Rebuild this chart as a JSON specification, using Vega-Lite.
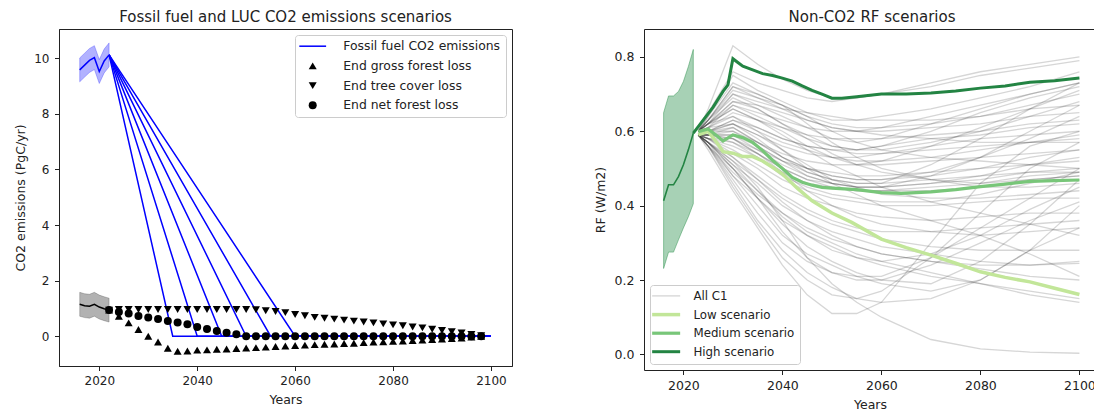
{
"$schema": "https://vega.github.io/schema/vega-lite/v6.json",
"padding": {"left": 13, "top": 9, "right": 0, "bottom": 0},
"bounds": "flush",
"spacing": 132,
"resolve": {"scale": {"color": "independent", "shape": "independent", "strokeWidth": "independent", "opacity": "independent"}, "legend": {"color": "independent", "shape": "independent", "strokeWidth": "independent", "opacity": "independent"}},
"config": {
 "font": "DejaVu Sans",
 "view": {"stroke": null},
 "axis": {"grid": false, "domainColor": "#222", "tickColor": "#222", "labelColor": "#222", "titleColor": "#222", "tickSize": 4.5, "labelFontSize": 12, "titleFontSize": 12.5, "titleFontWeight": "normal", "labelPadding": 5},
 "axisY": {"labelPadding": 5.5, "titlePadding": 6.5},
 "axisX": {"titlePadding": 6.5},
 "title": {"fontSize": 15, "fontWeight": "normal", "color": "#222", "offset": 4},
 "legend": {"labelFontSize": 12.4, "labelColor": "#222", "labelLimit": 300, "fillColor": "rgba(255,255,255,0.8)", "strokeColor": "#cccccc", "cornerRadius": 3, "padding": 5, "rowPadding": 6.7}
},
"datasets": {
 "ffh": [
  {"x":2016,"y":9.58,"lo":9.15,"hi":10.01},{"x":2017,"y":9.75,"lo":9.32,"hi":10.18},{"x":2018,"y":9.92,"lo":9.49,"hi":10.35},{"x":2019,"y":10.02,"lo":9.59,"hi":10.45},{"x":2020,"y":9.52,"lo":9.09,"hi":9.95},{"x":2021,"y":9.9,"lo":9.47,"hi":10.33},{"x":2022,"y":10.12,"lo":9.69,"hi":10.55}
 ],
 "ffs": [
  {"sc":2035,"x":2022,"y":10.12},{"sc":2035,"x":2035,"y":0},{"sc":2035,"x":2100,"y":0},
  {"sc":2040,"x":2022,"y":10.12},{"sc":2040,"x":2040,"y":0},{"sc":2040,"x":2100,"y":0},
  {"sc":2045,"x":2022,"y":10.12},{"sc":2045,"x":2045,"y":0},{"sc":2045,"x":2100,"y":0},
  {"sc":2050,"x":2022,"y":10.12},{"sc":2050,"x":2050,"y":0},{"sc":2050,"x":2100,"y":0},
  {"sc":2055,"x":2022,"y":10.12},{"sc":2055,"x":2055,"y":0},{"sc":2055,"x":2100,"y":0},
  {"sc":2060,"x":2022,"y":10.12},{"sc":2060,"x":2060,"y":0},{"sc":2060,"x":2100,"y":0}
 ],
 "luh": [
  {"x":2016,"y":1.15,"lo":0.72,"hi":1.58},{"x":2017,"y":1.1,"lo":0.67,"hi":1.53},{"x":2018,"y":1.08,"lo":0.65,"hi":1.51},{"x":2019,"y":1.15,"lo":0.72,"hi":1.58},{"x":2020,"y":1.05,"lo":0.62,"hi":1.48},{"x":2021,"y":0.99,"lo":0.56,"hi":1.42},{"x":2022,"y":0.94,"lo":0.51,"hi":1.37}
 ],
 "mk": [
  {"k":"End gross forest loss","x":2022,"y":0.94},{"k":"End gross forest loss","x":2024,"y":0.72},{"k":"End gross forest loss","x":2026,"y":0.48},{"k":"End gross forest loss","x":2028,"y":0.24},{"k":"End gross forest loss","x":2030,"y":0},{"k":"End gross forest loss","x":2032,"y":-0.21},{"k":"End gross forest loss","x":2034,"y":-0.43},{"k":"End gross forest loss","x":2036,"y":-0.54},{"k":"End gross forest loss","x":2038,"y":-0.53},{"k":"End gross forest loss","x":2040,"y":-0.5},{"k":"End gross forest loss","x":2042,"y":-0.49},{"k":"End gross forest loss","x":2044,"y":-0.47},{"k":"End gross forest loss","x":2046,"y":-0.46},{"k":"End gross forest loss","x":2048,"y":-0.44},{"k":"End gross forest loss","x":2050,"y":-0.42},{"k":"End gross forest loss","x":2052,"y":-0.41},{"k":"End gross forest loss","x":2054,"y":-0.39},{"k":"End gross forest loss","x":2056,"y":-0.37},{"k":"End gross forest loss","x":2058,"y":-0.35},{"k":"End gross forest loss","x":2060,"y":-0.33},{"k":"End gross forest loss","x":2062,"y":-0.32},{"k":"End gross forest loss","x":2064,"y":-0.3},{"k":"End gross forest loss","x":2066,"y":-0.29},{"k":"End gross forest loss","x":2068,"y":-0.28},{"k":"End gross forest loss","x":2070,"y":-0.26},{"k":"End gross forest loss","x":2072,"y":-0.25},{"k":"End gross forest loss","x":2074,"y":-0.23},{"k":"End gross forest loss","x":2076,"y":-0.21},{"k":"End gross forest loss","x":2078,"y":-0.2},{"k":"End gross forest loss","x":2080,"y":-0.18},{"k":"End gross forest loss","x":2082,"y":-0.17},{"k":"End gross forest loss","x":2084,"y":-0.15},{"k":"End gross forest loss","x":2086,"y":-0.14},{"k":"End gross forest loss","x":2088,"y":-0.12},{"k":"End gross forest loss","x":2090,"y":-0.1},{"k":"End gross forest loss","x":2092,"y":-0.08},{"k":"End gross forest loss","x":2094,"y":-0.06},{"k":"End gross forest loss","x":2096,"y":-0.03},{"k":"End gross forest loss","x":2098,"y":0},
  {"k":"End tree cover loss","x":2022,"y":0.94},{"k":"End tree cover loss","x":2024,"y":0.96},{"k":"End tree cover loss","x":2026,"y":0.96},{"k":"End tree cover loss","x":2028,"y":0.96},{"k":"End tree cover loss","x":2030,"y":0.96},{"k":"End tree cover loss","x":2032,"y":0.96},{"k":"End tree cover loss","x":2034,"y":0.96},{"k":"End tree cover loss","x":2036,"y":0.96},{"k":"End tree cover loss","x":2038,"y":0.96},{"k":"End tree cover loss","x":2040,"y":0.96},{"k":"End tree cover loss","x":2042,"y":0.96},{"k":"End tree cover loss","x":2044,"y":0.96},{"k":"End tree cover loss","x":2046,"y":0.96},{"k":"End tree cover loss","x":2048,"y":0.96},{"k":"End tree cover loss","x":2050,"y":0.96},{"k":"End tree cover loss","x":2052,"y":0.95},{"k":"End tree cover loss","x":2054,"y":0.92},{"k":"End tree cover loss","x":2056,"y":0.89},{"k":"End tree cover loss","x":2058,"y":0.85},{"k":"End tree cover loss","x":2060,"y":0.785},{"k":"End tree cover loss","x":2062,"y":0.735},{"k":"End tree cover loss","x":2064,"y":0.68},{"k":"End tree cover loss","x":2066,"y":0.645},{"k":"End tree cover loss","x":2068,"y":0.615},{"k":"End tree cover loss","x":2070,"y":0.58},{"k":"End tree cover loss","x":2072,"y":0.545},{"k":"End tree cover loss","x":2074,"y":0.51},{"k":"End tree cover loss","x":2076,"y":0.48},{"k":"End tree cover loss","x":2078,"y":0.445},{"k":"End tree cover loss","x":2080,"y":0.41},{"k":"End tree cover loss","x":2082,"y":0.375},{"k":"End tree cover loss","x":2084,"y":0.335},{"k":"End tree cover loss","x":2086,"y":0.3},{"k":"End tree cover loss","x":2088,"y":0.25},{"k":"End tree cover loss","x":2090,"y":0.205},{"k":"End tree cover loss","x":2092,"y":0.165},{"k":"End tree cover loss","x":2094,"y":0.115},{"k":"End tree cover loss","x":2096,"y":0.06},{"k":"End tree cover loss","x":2098,"y":0.015},
  {"k":"End net forest loss","x":2022,"y":0.94},{"k":"End net forest loss","x":2024,"y":0.87},{"k":"End net forest loss","x":2026,"y":0.82},{"k":"End net forest loss","x":2028,"y":0.73},{"k":"End net forest loss","x":2030,"y":0.67},{"k":"End net forest loss","x":2032,"y":0.62},{"k":"End net forest loss","x":2034,"y":0.55},{"k":"End net forest loss","x":2036,"y":0.49},{"k":"End net forest loss","x":2038,"y":0.43},{"k":"End net forest loss","x":2040,"y":0.33},{"k":"End net forest loss","x":2042,"y":0.26},{"k":"End net forest loss","x":2044,"y":0.19},{"k":"End net forest loss","x":2046,"y":0.13},{"k":"End net forest loss","x":2048,"y":0.07},{"k":"End net forest loss","x":2050,"y":0},{"k":"End net forest loss","x":2052,"y":0},{"k":"End net forest loss","x":2054,"y":0},{"k":"End net forest loss","x":2056,"y":0},{"k":"End net forest loss","x":2058,"y":0},{"k":"End net forest loss","x":2060,"y":0},{"k":"End net forest loss","x":2062,"y":0},{"k":"End net forest loss","x":2064,"y":0},{"k":"End net forest loss","x":2066,"y":0},{"k":"End net forest loss","x":2068,"y":0},{"k":"End net forest loss","x":2070,"y":0},{"k":"End net forest loss","x":2072,"y":0},{"k":"End net forest loss","x":2074,"y":0},{"k":"End net forest loss","x":2076,"y":0},{"k":"End net forest loss","x":2078,"y":0},{"k":"End net forest loss","x":2080,"y":0},{"k":"End net forest loss","x":2082,"y":0},{"k":"End net forest loss","x":2084,"y":0},{"k":"End net forest loss","x":2086,"y":0},{"k":"End net forest loss","x":2088,"y":0},{"k":"End net forest loss","x":2090,"y":0},{"k":"End net forest loss","x":2092,"y":0},{"k":"End net forest loss","x":2094,"y":0},{"k":"End net forest loss","x":2096,"y":0},{"k":"End net forest loss","x":2098,"y":0}
 ],
 "band": [
  {"x":2016,"lo":0.231,"hi":0.65},{"x":2017,"lo":0.275,"hi":0.695},{"x":2018,"lo":0.275,"hi":0.695},{"x":2019,"lo":0.308,"hi":0.707},{"x":2020,"lo":0.34,"hi":0.734},{"x":2021,"lo":0.37,"hi":0.774},{"x":2022,"lo":0.405,"hi":0.82}
 ],
 "hist": [
  {"x":2016,"y":0.413},{"x":2017,"y":0.456},{"x":2018,"y":0.456},{"x":2019,"y":0.478},{"x":2020,"y":0.51},{"x":2021,"y":0.55},{"x":2022,"y":0.595}
 ],
 "c1": [
  {"s":1,"x":2023,"y":0.6},{"s":1,"x":2025,"y":0.66},{"s":1,"x":2030,"y":0.83},{"s":1,"x":2035,"y":0.78},{"s":1,"x":2040,"y":0.74},{"s":1,"x":2045,"y":0.71},{"s":1,"x":2050,"y":0.69},{"s":1,"x":2055,"y":0.69},{"s":1,"x":2060,"y":0.7},{"s":1,"x":2070,"y":0.73},{"s":1,"x":2080,"y":0.76},{"s":1,"x":2090,"y":0.78},{"s":1,"x":2100,"y":0.8},
  {"s":2,"x":2023,"y":0.6},{"s":2,"x":2025,"y":0.65},{"s":2,"x":2030,"y":0.76},{"s":2,"x":2035,"y":0.73},{"s":2,"x":2040,"y":0.71},{"s":2,"x":2045,"y":0.69},{"s":2,"x":2050,"y":0.68},{"s":2,"x":2055,"y":0.69},{"s":2,"x":2060,"y":0.7},{"s":2,"x":2070,"y":0.72},{"s":2,"x":2080,"y":0.75},{"s":2,"x":2090,"y":0.77},{"s":2,"x":2100,"y":0.79},
  {"s":3,"x":2023,"y":0.6},{"s":3,"x":2025,"y":0.64},{"s":3,"x":2030,"y":0.75},{"s":3,"x":2035,"y":0.71},{"s":3,"x":2040,"y":0.68},{"s":3,"x":2045,"y":0.65},{"s":3,"x":2050,"y":0.63},{"s":3,"x":2055,"y":0.63},{"s":3,"x":2060,"y":0.64},{"s":3,"x":2070,"y":0.66},{"s":3,"x":2080,"y":0.69},{"s":3,"x":2090,"y":0.72},{"s":3,"x":2100,"y":0.76},
  {"s":4,"x":2023,"y":0.6},{"s":4,"x":2025,"y":0.63},{"s":4,"x":2030,"y":0.72},{"s":4,"x":2035,"y":0.69},{"s":4,"x":2040,"y":0.66},{"s":4,"x":2045,"y":0.63},{"s":4,"x":2050,"y":0.61},{"s":4,"x":2055,"y":0.6},{"s":4,"x":2060,"y":0.61},{"s":4,"x":2070,"y":0.64},{"s":4,"x":2080,"y":0.67},{"s":4,"x":2090,"y":0.7},{"s":4,"x":2100,"y":0.73},
  {"s":5,"x":2023,"y":0.6},{"s":5,"x":2025,"y":0.63},{"s":5,"x":2030,"y":0.7},{"s":5,"x":2035,"y":0.67},{"s":5,"x":2040,"y":0.64},{"s":5,"x":2045,"y":0.61},{"s":5,"x":2050,"y":0.58},{"s":5,"x":2055,"y":0.57},{"s":5,"x":2060,"y":0.58},{"s":5,"x":2070,"y":0.62},{"s":5,"x":2080,"y":0.66},{"s":5,"x":2090,"y":0.7},{"s":5,"x":2100,"y":0.73},
  {"s":6,"x":2023,"y":0.6},{"s":6,"x":2025,"y":0.62},{"s":6,"x":2030,"y":0.68},{"s":6,"x":2035,"y":0.66},{"s":6,"x":2040,"y":0.62},{"s":6,"x":2045,"y":0.59},{"s":6,"x":2050,"y":0.56},{"s":6,"x":2055,"y":0.55},{"s":6,"x":2060,"y":0.56},{"s":6,"x":2070,"y":0.6},{"s":6,"x":2080,"y":0.65},{"s":6,"x":2090,"y":0.69},{"s":6,"x":2100,"y":0.72},
  {"s":7,"x":2023,"y":0.6},{"s":7,"x":2025,"y":0.62},{"s":7,"x":2030,"y":0.66},{"s":7,"x":2035,"y":0.63},{"s":7,"x":2040,"y":0.6},{"s":7,"x":2045,"y":0.56},{"s":7,"x":2050,"y":0.53},{"s":7,"x":2055,"y":0.51},{"s":7,"x":2060,"y":0.52},{"s":7,"x":2070,"y":0.56},{"s":7,"x":2080,"y":0.61},{"s":7,"x":2090,"y":0.66},{"s":7,"x":2100,"y":0.71},
  {"s":8,"x":2023,"y":0.6},{"s":8,"x":2025,"y":0.62},{"s":8,"x":2030,"y":0.7},{"s":8,"x":2035,"y":0.68},{"s":8,"x":2040,"y":0.66},{"s":8,"x":2045,"y":0.65},{"s":8,"x":2050,"y":0.64},{"s":8,"x":2055,"y":0.63},{"s":8,"x":2060,"y":0.63},{"s":8,"x":2070,"y":0.63},{"s":8,"x":2080,"y":0.64},{"s":8,"x":2090,"y":0.66},{"s":8,"x":2100,"y":0.67},
  {"s":9,"x":2023,"y":0.6},{"s":9,"x":2025,"y":0.61},{"s":9,"x":2030,"y":0.67},{"s":9,"x":2035,"y":0.65},{"s":9,"x":2040,"y":0.63},{"s":9,"x":2045,"y":0.61},{"s":9,"x":2050,"y":0.6},{"s":9,"x":2055,"y":0.6},{"s":9,"x":2060,"y":0.6},{"s":9,"x":2070,"y":0.61},{"s":9,"x":2080,"y":0.62},{"s":9,"x":2090,"y":0.64},{"s":9,"x":2100,"y":0.65},
  {"s":10,"x":2023,"y":0.6},{"s":10,"x":2025,"y":0.61},{"s":10,"x":2030,"y":0.65},{"s":10,"x":2035,"y":0.63},{"s":10,"x":2040,"y":0.61},{"s":10,"x":2045,"y":0.59},{"s":10,"x":2050,"y":0.58},{"s":10,"x":2055,"y":0.58},{"s":10,"x":2060,"y":0.58},{"s":10,"x":2070,"y":0.59},{"s":10,"x":2080,"y":0.6},{"s":10,"x":2090,"y":0.62},{"s":10,"x":2100,"y":0.63},
  {"s":11,"x":2023,"y":0.59},{"s":11,"x":2025,"y":0.61},{"s":11,"x":2030,"y":0.64},{"s":11,"x":2035,"y":0.61},{"s":11,"x":2040,"y":0.58},{"s":11,"x":2045,"y":0.56},{"s":11,"x":2050,"y":0.55},{"s":11,"x":2055,"y":0.55},{"s":11,"x":2060,"y":0.56},{"s":11,"x":2070,"y":0.58},{"s":11,"x":2080,"y":0.59},{"s":11,"x":2090,"y":0.61},{"s":11,"x":2100,"y":0.62},
  {"s":12,"x":2023,"y":0.59},{"s":12,"x":2025,"y":0.6},{"s":12,"x":2030,"y":0.62},{"s":12,"x":2035,"y":0.59},{"s":12,"x":2040,"y":0.56},{"s":12,"x":2045,"y":0.54},{"s":12,"x":2050,"y":0.53},{"s":12,"x":2055,"y":0.53},{"s":12,"x":2060,"y":0.54},{"s":12,"x":2070,"y":0.56},{"s":12,"x":2080,"y":0.58},{"s":12,"x":2090,"y":0.59},{"s":12,"x":2100,"y":0.6},
  {"s":13,"x":2023,"y":0.59},{"s":13,"x":2025,"y":0.6},{"s":13,"x":2030,"y":0.63},{"s":13,"x":2035,"y":0.6},{"s":13,"x":2040,"y":0.57},{"s":13,"x":2045,"y":0.55},{"s":13,"x":2050,"y":0.53},{"s":13,"x":2055,"y":0.52},{"s":13,"x":2060,"y":0.52},{"s":13,"x":2070,"y":0.53},{"s":13,"x":2080,"y":0.55},{"s":13,"x":2090,"y":0.57},{"s":13,"x":2100,"y":0.59},
  {"s":14,"x":2023,"y":0.59},{"s":14,"x":2025,"y":0.6},{"s":14,"x":2030,"y":0.62},{"s":14,"x":2035,"y":0.58},{"s":14,"x":2040,"y":0.53},{"s":14,"x":2045,"y":0.49},{"s":14,"x":2050,"y":0.47},{"s":14,"x":2055,"y":0.46},{"s":14,"x":2060,"y":0.46},{"s":14,"x":2070,"y":0.51},{"s":14,"x":2080,"y":0.58},{"s":14,"x":2090,"y":0.66},{"s":14,"x":2100,"y":0.73},
  {"s":15,"x":2023,"y":0.59},{"s":15,"x":2025,"y":0.6},{"s":15,"x":2030,"y":0.6},{"s":15,"x":2035,"y":0.56},{"s":15,"x":2040,"y":0.52},{"s":15,"x":2045,"y":0.48},{"s":15,"x":2050,"y":0.46},{"s":15,"x":2055,"y":0.45},{"s":15,"x":2060,"y":0.45},{"s":15,"x":2070,"y":0.48},{"s":15,"x":2080,"y":0.53},{"s":15,"x":2090,"y":0.6},{"s":15,"x":2100,"y":0.67},
  {"s":16,"x":2023,"y":0.59},{"s":16,"x":2025,"y":0.59},{"s":16,"x":2030,"y":0.61},{"s":16,"x":2035,"y":0.57},{"s":16,"x":2040,"y":0.53},{"s":16,"x":2045,"y":0.5},{"s":16,"x":2050,"y":0.48},{"s":16,"x":2055,"y":0.47},{"s":16,"x":2060,"y":0.47},{"s":16,"x":2070,"y":0.48},{"s":16,"x":2080,"y":0.5},{"s":16,"x":2090,"y":0.53},{"s":16,"x":2100,"y":0.55},
  {"s":17,"x":2023,"y":0.59},{"s":17,"x":2025,"y":0.59},{"s":17,"x":2030,"y":0.59},{"s":17,"x":2035,"y":0.55},{"s":17,"x":2040,"y":0.51},{"s":17,"x":2045,"y":0.48},{"s":17,"x":2050,"y":0.46},{"s":17,"x":2055,"y":0.45},{"s":17,"x":2060,"y":0.45},{"s":17,"x":2070,"y":0.46},{"s":17,"x":2080,"y":0.48},{"s":17,"x":2090,"y":0.51},{"s":17,"x":2100,"y":0.53},
  {"s":18,"x":2023,"y":0.59},{"s":18,"x":2025,"y":0.59},{"s":18,"x":2030,"y":0.58},{"s":18,"x":2035,"y":0.54},{"s":18,"x":2040,"y":0.5},{"s":18,"x":2045,"y":0.47},{"s":18,"x":2050,"y":0.46},{"s":18,"x":2055,"y":0.45},{"s":18,"x":2060,"y":0.45},{"s":18,"x":2070,"y":0.46},{"s":18,"x":2080,"y":0.47},{"s":18,"x":2090,"y":0.49},{"s":18,"x":2100,"y":0.5},
  {"s":19,"x":2023,"y":0.59},{"s":19,"x":2025,"y":0.59},{"s":19,"x":2030,"y":0.57},{"s":19,"x":2035,"y":0.54},{"s":19,"x":2040,"y":0.5},{"s":19,"x":2045,"y":0.47},{"s":19,"x":2050,"y":0.45},{"s":19,"x":2055,"y":0.44},{"s":19,"x":2060,"y":0.44},{"s":19,"x":2070,"y":0.45},{"s":19,"x":2080,"y":0.46},{"s":19,"x":2090,"y":0.48},{"s":19,"x":2100,"y":0.49},
  {"s":20,"x":2023,"y":0.59},{"s":20,"x":2025,"y":0.58},{"s":20,"x":2030,"y":0.56},{"s":20,"x":2035,"y":0.53},{"s":20,"x":2040,"y":0.49},{"s":20,"x":2045,"y":0.46},{"s":20,"x":2050,"y":0.45},{"s":20,"x":2055,"y":0.44},{"s":20,"x":2060,"y":0.44},{"s":20,"x":2070,"y":0.44},{"s":20,"x":2080,"y":0.45},{"s":20,"x":2090,"y":0.47},{"s":20,"x":2100,"y":0.48},
  {"s":21,"x":2023,"y":0.59},{"s":21,"x":2025,"y":0.58},{"s":21,"x":2030,"y":0.58},{"s":21,"x":2035,"y":0.55},{"s":21,"x":2040,"y":0.52},{"s":21,"x":2045,"y":0.5},{"s":21,"x":2050,"y":0.49},{"s":21,"x":2055,"y":0.48},{"s":21,"x":2060,"y":0.48},{"s":21,"x":2070,"y":0.49},{"s":21,"x":2080,"y":0.5},{"s":21,"x":2090,"y":0.51},{"s":21,"x":2100,"y":0.52},
  {"s":22,"x":2023,"y":0.59},{"s":22,"x":2025,"y":0.59},{"s":22,"x":2030,"y":0.6},{"s":22,"x":2035,"y":0.57},{"s":22,"x":2040,"y":0.54},{"s":22,"x":2045,"y":0.52},{"s":22,"x":2050,"y":0.51},{"s":22,"x":2055,"y":0.51},{"s":22,"x":2060,"y":0.51},{"s":22,"x":2070,"y":0.52},{"s":22,"x":2080,"y":0.53},{"s":22,"x":2090,"y":0.54},{"s":22,"x":2100,"y":0.55},
  {"s":23,"x":2023,"y":0.59},{"s":23,"x":2025,"y":0.58},{"s":23,"x":2030,"y":0.55},{"s":23,"x":2035,"y":0.51},{"s":23,"x":2040,"y":0.47},{"s":23,"x":2045,"y":0.44},{"s":23,"x":2050,"y":0.42},{"s":23,"x":2055,"y":0.41},{"s":23,"x":2060,"y":0.4},{"s":23,"x":2070,"y":0.4},{"s":23,"x":2080,"y":0.41},{"s":23,"x":2090,"y":0.42},{"s":23,"x":2100,"y":0.42},
  {"s":24,"x":2023,"y":0.59},{"s":24,"x":2025,"y":0.58},{"s":24,"x":2030,"y":0.54},{"s":24,"x":2035,"y":0.5},{"s":24,"x":2040,"y":0.45},{"s":24,"x":2045,"y":0.42},{"s":24,"x":2050,"y":0.4},{"s":24,"x":2055,"y":0.38},{"s":24,"x":2060,"y":0.37},{"s":24,"x":2070,"y":0.36},{"s":24,"x":2080,"y":0.37},{"s":24,"x":2090,"y":0.38},{"s":24,"x":2100,"y":0.38},
  {"s":25,"x":2023,"y":0.59},{"s":25,"x":2025,"y":0.57},{"s":25,"x":2030,"y":0.53},{"s":25,"x":2035,"y":0.48},{"s":25,"x":2040,"y":0.43},{"s":25,"x":2045,"y":0.39},{"s":25,"x":2050,"y":0.36},{"s":25,"x":2055,"y":0.34},{"s":25,"x":2060,"y":0.33},{"s":25,"x":2070,"y":0.33},{"s":25,"x":2080,"y":0.34},{"s":25,"x":2090,"y":0.35},{"s":25,"x":2100,"y":0.36},
  {"s":26,"x":2023,"y":0.59},{"s":26,"x":2025,"y":0.57},{"s":26,"x":2030,"y":0.52},{"s":26,"x":2035,"y":0.47},{"s":26,"x":2040,"y":0.42},{"s":26,"x":2045,"y":0.38},{"s":26,"x":2050,"y":0.35},{"s":26,"x":2055,"y":0.33},{"s":26,"x":2060,"y":0.31},{"s":26,"x":2070,"y":0.29},{"s":26,"x":2080,"y":0.28},{"s":26,"x":2090,"y":0.28},{"s":26,"x":2100,"y":0.28},
  {"s":27,"x":2023,"y":0.59},{"s":27,"x":2025,"y":0.57},{"s":27,"x":2030,"y":0.51},{"s":27,"x":2035,"y":0.46},{"s":27,"x":2040,"y":0.4},{"s":27,"x":2045,"y":0.36},{"s":27,"x":2050,"y":0.33},{"s":27,"x":2055,"y":0.31},{"s":27,"x":2060,"y":0.29},{"s":27,"x":2070,"y":0.27},{"s":27,"x":2080,"y":0.25},{"s":27,"x":2090,"y":0.24},{"s":27,"x":2100,"y":0.245},
  {"s":28,"x":2023,"y":0.59},{"s":28,"x":2025,"y":0.56},{"s":28,"x":2030,"y":0.5},{"s":28,"x":2035,"y":0.44},{"s":28,"x":2040,"y":0.38},{"s":28,"x":2045,"y":0.34},{"s":28,"x":2050,"y":0.31},{"s":28,"x":2055,"y":0.29},{"s":28,"x":2060,"y":0.27},{"s":28,"x":2070,"y":0.25},{"s":28,"x":2080,"y":0.23},{"s":28,"x":2090,"y":0.21},{"s":28,"x":2100,"y":0.2},
  {"s":29,"x":2023,"y":0.59},{"s":29,"x":2025,"y":0.56},{"s":29,"x":2030,"y":0.48},{"s":29,"x":2035,"y":0.42},{"s":29,"x":2040,"y":0.36},{"s":29,"x":2045,"y":0.32},{"s":29,"x":2050,"y":0.29},{"s":29,"x":2055,"y":0.26},{"s":29,"x":2060,"y":0.24},{"s":29,"x":2070,"y":0.21},{"s":29,"x":2080,"y":0.19},{"s":29,"x":2090,"y":0.17},{"s":29,"x":2100,"y":0.15},
  {"s":30,"x":2023,"y":0.59},{"s":30,"x":2025,"y":0.56},{"s":30,"x":2030,"y":0.49},{"s":30,"x":2035,"y":0.43},{"s":30,"x":2040,"y":0.38},{"s":30,"x":2045,"y":0.33},{"s":30,"x":2050,"y":0.3},{"s":30,"x":2055,"y":0.27},{"s":30,"x":2060,"y":0.25},{"s":30,"x":2070,"y":0.22},{"s":30,"x":2080,"y":0.19},{"s":30,"x":2090,"y":0.16},{"s":30,"x":2100,"y":0.14},
  {"s":31,"x":2023,"y":0.6},{"s":31,"x":2025,"y":0.62},{"s":31,"x":2030,"y":0.64},{"s":31,"x":2035,"y":0.6},{"s":31,"x":2040,"y":0.55},{"s":31,"x":2045,"y":0.5},{"s":31,"x":2050,"y":0.46},{"s":31,"x":2055,"y":0.43},{"s":31,"x":2060,"y":0.4},{"s":31,"x":2070,"y":0.36},{"s":31,"x":2080,"y":0.32},{"s":31,"x":2090,"y":0.27},{"s":31,"x":2100,"y":0.21},
  {"s":32,"x":2023,"y":0.6},{"s":32,"x":2025,"y":0.62},{"s":32,"x":2030,"y":0.66},{"s":32,"x":2035,"y":0.63},{"s":32,"x":2040,"y":0.59},{"s":32,"x":2045,"y":0.55},{"s":32,"x":2050,"y":0.51},{"s":32,"x":2055,"y":0.48},{"s":32,"x":2060,"y":0.45},{"s":32,"x":2070,"y":0.41},{"s":32,"x":2080,"y":0.38},{"s":32,"x":2090,"y":0.35},{"s":32,"x":2100,"y":0.32},
  {"s":33,"x":2023,"y":0.59},{"s":33,"x":2025,"y":0.55},{"s":33,"x":2030,"y":0.44},{"s":33,"x":2035,"y":0.34},{"s":33,"x":2040,"y":0.24},{"s":33,"x":2045,"y":0.16},{"s":33,"x":2050,"y":0.11},{"s":33,"x":2055,"y":0.11},{"s":33,"x":2060,"y":0.14},{"s":33,"x":2070,"y":0.3},{"s":33,"x":2080,"y":0.46},{"s":33,"x":2090,"y":0.56},{"s":33,"x":2100,"y":0.6},
  {"s":34,"x":2023,"y":0.59},{"s":34,"x":2025,"y":0.56},{"s":34,"x":2030,"y":0.45},{"s":34,"x":2035,"y":0.35},{"s":34,"x":2040,"y":0.26},{"s":34,"x":2045,"y":0.2},{"s":34,"x":2050,"y":0.16},{"s":34,"x":2055,"y":0.15},{"s":34,"x":2060,"y":0.17},{"s":34,"x":2070,"y":0.26},{"s":34,"x":2080,"y":0.38},{"s":34,"x":2090,"y":0.5},{"s":34,"x":2100,"y":0.57},
  {"s":35,"x":2023,"y":0.59},{"s":35,"x":2025,"y":0.56},{"s":35,"x":2030,"y":0.47},{"s":35,"x":2035,"y":0.38},{"s":35,"x":2040,"y":0.3},{"s":35,"x":2045,"y":0.25},{"s":35,"x":2050,"y":0.22},{"s":35,"x":2055,"y":0.21},{"s":35,"x":2060,"y":0.21},{"s":35,"x":2070,"y":0.26},{"s":35,"x":2080,"y":0.34},{"s":35,"x":2090,"y":0.42},{"s":35,"x":2100,"y":0.5},
  {"s":36,"x":2023,"y":0.59},{"s":36,"x":2025,"y":0.57},{"s":36,"x":2030,"y":0.5},{"s":36,"x":2035,"y":0.42},{"s":36,"x":2040,"y":0.35},{"s":36,"x":2045,"y":0.29},{"s":36,"x":2050,"y":0.25},{"s":36,"x":2055,"y":0.22},{"s":36,"x":2060,"y":0.2},{"s":36,"x":2070,"y":0.19},{"s":36,"x":2080,"y":0.25},{"s":36,"x":2090,"y":0.35},{"s":36,"x":2100,"y":0.47},
  {"s":37,"x":2023,"y":0.59},{"s":37,"x":2025,"y":0.57},{"s":37,"x":2030,"y":0.48},{"s":37,"x":2035,"y":0.4},{"s":37,"x":2040,"y":0.32},{"s":37,"x":2045,"y":0.27},{"s":37,"x":2050,"y":0.24},{"s":37,"x":2055,"y":0.21},{"s":37,"x":2060,"y":0.19},{"s":37,"x":2070,"y":0.17},{"s":37,"x":2080,"y":0.2},{"s":37,"x":2090,"y":0.28},{"s":37,"x":2100,"y":0.4},
  {"s":38,"x":2023,"y":0.59},{"s":38,"x":2025,"y":0.56},{"s":38,"x":2030,"y":0.46},{"s":38,"x":2035,"y":0.36},{"s":38,"x":2040,"y":0.28},{"s":38,"x":2045,"y":0.22},{"s":38,"x":2050,"y":0.18},{"s":38,"x":2055,"y":0.15},{"s":38,"x":2060,"y":0.14},{"s":38,"x":2070,"y":0.15},{"s":38,"x":2080,"y":0.2},{"s":38,"x":2090,"y":0.28},{"s":38,"x":2100,"y":0.34},
  {"s":39,"x":2023,"y":0.59},{"s":39,"x":2025,"y":0.57},{"s":39,"x":2030,"y":0.51},{"s":39,"x":2035,"y":0.44},{"s":39,"x":2040,"y":0.37},{"s":39,"x":2045,"y":0.32},{"s":39,"x":2050,"y":0.28},{"s":39,"x":2055,"y":0.26},{"s":39,"x":2060,"y":0.25},{"s":39,"x":2070,"y":0.27},{"s":39,"x":2080,"y":0.32},{"s":39,"x":2090,"y":0.39},{"s":39,"x":2100,"y":0.45},
  {"s":40,"x":2023,"y":0.59},{"s":40,"x":2025,"y":0.57},{"s":40,"x":2030,"y":0.52},{"s":40,"x":2035,"y":0.45},{"s":40,"x":2040,"y":0.36},{"s":40,"x":2045,"y":0.26},{"s":40,"x":2050,"y":0.19},{"s":40,"x":2055,"y":0.14},{"s":40,"x":2060,"y":0.1},{"s":40,"x":2070,"y":0.04},{"s":40,"x":2080,"y":0.015},{"s":40,"x":2090,"y":0.006},{"s":40,"x":2100,"y":0.003},
  {"s":41,"x":2023,"y":0.6},{"s":41,"x":2025,"y":0.63},{"s":41,"x":2030,"y":0.71},{"s":41,"x":2035,"y":0.69},{"s":41,"x":2040,"y":0.67},{"s":41,"x":2045,"y":0.64},{"s":41,"x":2050,"y":0.6},{"s":41,"x":2055,"y":0.57},{"s":41,"x":2060,"y":0.55},{"s":41,"x":2070,"y":0.53},{"s":41,"x":2080,"y":0.52},{"s":41,"x":2090,"y":0.51},{"s":41,"x":2100,"y":0.5},
  {"s":42,"x":2023,"y":0.6},{"s":42,"x":2025,"y":0.63},{"s":42,"x":2030,"y":0.72},{"s":42,"x":2035,"y":0.7},{"s":42,"x":2040,"y":0.67},{"s":42,"x":2045,"y":0.62},{"s":42,"x":2050,"y":0.57},{"s":42,"x":2055,"y":0.53},{"s":42,"x":2060,"y":0.5},{"s":42,"x":2070,"y":0.47},{"s":42,"x":2080,"y":0.45},{"s":42,"x":2090,"y":0.45},{"s":42,"x":2100,"y":0.46},
  {"s":43,"x":2023,"y":0.6},{"s":43,"x":2025,"y":0.61},{"s":43,"x":2030,"y":0.62},{"s":43,"x":2035,"y":0.59},{"s":43,"x":2040,"y":0.55},{"s":43,"x":2045,"y":0.51},{"s":43,"x":2050,"y":0.47},{"s":43,"x":2055,"y":0.45},{"s":43,"x":2060,"y":0.43},{"s":43,"x":2070,"y":0.42},{"s":43,"x":2080,"y":0.42},{"s":43,"x":2090,"y":0.43},{"s":43,"x":2100,"y":0.44},
  {"s":44,"x":2023,"y":0.59},{"s":44,"x":2025,"y":0.59},{"s":44,"x":2030,"y":0.58},{"s":44,"x":2035,"y":0.54},{"s":44,"x":2040,"y":0.49},{"s":44,"x":2045,"y":0.44},{"s":44,"x":2050,"y":0.4},{"s":44,"x":2055,"y":0.37},{"s":44,"x":2060,"y":0.35},{"s":44,"x":2070,"y":0.33},{"s":44,"x":2080,"y":0.32},{"s":44,"x":2090,"y":0.33},{"s":44,"x":2100,"y":0.34},
  {"s":45,"x":2023,"y":0.6},{"s":45,"x":2025,"y":0.64},{"s":45,"x":2030,"y":0.73},{"s":45,"x":2035,"y":0.7},{"s":45,"x":2040,"y":0.67},{"s":45,"x":2045,"y":0.64},{"s":45,"x":2050,"y":0.62},{"s":45,"x":2055,"y":0.61},{"s":45,"x":2060,"y":0.61},{"s":45,"x":2070,"y":0.62},{"s":45,"x":2080,"y":0.64},{"s":45,"x":2090,"y":0.67},{"s":45,"x":2100,"y":0.7},
  {"s":46,"x":2023,"y":0.6},{"s":46,"x":2025,"y":0.62},{"s":46,"x":2030,"y":0.67},{"s":46,"x":2035,"y":0.64},{"s":46,"x":2040,"y":0.61},{"s":46,"x":2045,"y":0.58},{"s":46,"x":2050,"y":0.56},{"s":46,"x":2055,"y":0.55},{"s":46,"x":2060,"y":0.55},{"s":46,"x":2070,"y":0.57},{"s":46,"x":2080,"y":0.6},{"s":46,"x":2090,"y":0.64},{"s":46,"x":2100,"y":0.68},
  {"s":47,"x":2023,"y":0.59},{"s":47,"x":2025,"y":0.6},{"s":47,"x":2030,"y":0.61},{"s":47,"x":2035,"y":0.57},{"s":47,"x":2040,"y":0.53},{"s":47,"x":2045,"y":0.5},{"s":47,"x":2050,"y":0.48},{"s":47,"x":2055,"y":0.47},{"s":47,"x":2060,"y":0.47},{"s":47,"x":2070,"y":0.49},{"s":47,"x":2080,"y":0.53},{"s":47,"x":2090,"y":0.58},{"s":47,"x":2100,"y":0.64},
  {"s":48,"x":2023,"y":0.59},{"s":48,"x":2025,"y":0.6},{"s":48,"x":2030,"y":0.63},{"s":48,"x":2035,"y":0.61},{"s":48,"x":2040,"y":0.58},{"s":48,"x":2045,"y":0.56},{"s":48,"x":2050,"y":0.55},{"s":48,"x":2055,"y":0.54},{"s":48,"x":2060,"y":0.54},{"s":48,"x":2070,"y":0.55},{"s":48,"x":2080,"y":0.56},{"s":48,"x":2090,"y":0.57},{"s":48,"x":2100,"y":0.58},
  {"s":49,"x":2023,"y":0.6},{"s":49,"x":2025,"y":0.62},{"s":49,"x":2030,"y":0.68},{"s":49,"x":2035,"y":0.67},{"s":49,"x":2040,"y":0.65},{"s":49,"x":2045,"y":0.63},{"s":49,"x":2050,"y":0.61},{"s":49,"x":2055,"y":0.6},{"s":49,"x":2060,"y":0.59},{"s":49,"x":2070,"y":0.58},{"s":49,"x":2080,"y":0.57},{"s":49,"x":2090,"y":0.57},{"s":49,"x":2100,"y":0.57},
  {"s":50,"x":2023,"y":0.59},{"s":50,"x":2025,"y":0.59},{"s":50,"x":2030,"y":0.59},{"s":50,"x":2035,"y":0.56},{"s":50,"x":2040,"y":0.52},{"s":50,"x":2045,"y":0.49},{"s":50,"x":2050,"y":0.47},{"s":50,"x":2055,"y":0.46},{"s":50,"x":2060,"y":0.46},{"s":50,"x":2070,"y":0.47},{"s":50,"x":2080,"y":0.48},{"s":50,"x":2090,"y":0.49},{"s":50,"x":2100,"y":0.49},
  {"s":51,"x":2023,"y":0.59},{"s":51,"x":2025,"y":0.58},{"s":51,"x":2030,"y":0.57},{"s":51,"x":2035,"y":0.53},{"s":51,"x":2040,"y":0.48},{"s":51,"x":2045,"y":0.45},{"s":51,"x":2050,"y":0.43},{"s":51,"x":2055,"y":0.42},{"s":51,"x":2060,"y":0.41},{"s":51,"x":2070,"y":0.41},{"s":51,"x":2080,"y":0.43},{"s":51,"x":2090,"y":0.46},{"s":51,"x":2100,"y":0.49},
  {"s":52,"x":2023,"y":0.6},{"s":52,"x":2025,"y":0.63},{"s":52,"x":2030,"y":0.69},{"s":52,"x":2035,"y":0.66},{"s":52,"x":2040,"y":0.62},{"s":52,"x":2045,"y":0.58},{"s":52,"x":2050,"y":0.54},{"s":52,"x":2055,"y":0.51},{"s":52,"x":2060,"y":0.49},{"s":52,"x":2070,"y":0.47},{"s":52,"x":2080,"y":0.46},{"s":52,"x":2090,"y":0.47},{"s":52,"x":2100,"y":0.48},
  {"s":53,"x":2023,"y":0.59},{"s":53,"x":2025,"y":0.57},{"s":53,"x":2030,"y":0.5},{"s":53,"x":2035,"y":0.42},{"s":53,"x":2040,"y":0.33},{"s":53,"x":2045,"y":0.26},{"s":53,"x":2050,"y":0.22},{"s":53,"x":2055,"y":0.2},{"s":53,"x":2060,"y":0.2},{"s":53,"x":2070,"y":0.24},{"s":53,"x":2080,"y":0.3},{"s":53,"x":2090,"y":0.36},{"s":53,"x":2100,"y":0.41},
  {"s":54,"x":2023,"y":0.59},{"s":54,"x":2025,"y":0.58},{"s":54,"x":2030,"y":0.53},{"s":54,"x":2035,"y":0.47},{"s":54,"x":2040,"y":0.41},{"s":54,"x":2045,"y":0.36},{"s":54,"x":2050,"y":0.32},{"s":54,"x":2055,"y":0.29},{"s":54,"x":2060,"y":0.27},{"s":54,"x":2070,"y":0.25},{"s":54,"x":2080,"y":0.24},{"s":54,"x":2090,"y":0.24},{"s":54,"x":2100,"y":0.25}
 ],
 "sc": [
  {"g":"Low scenario","x":2023,"y":0.59},{"g":"Low scenario","x":2025,"y":0.6},{"g":"Low scenario","x":2027,"y":0.565},{"g":"Low scenario","x":2028,"y":0.545},{"g":"Low scenario","x":2030,"y":0.541},{"g":"Low scenario","x":2032,"y":0.532},{"g":"Low scenario","x":2034,"y":0.532},{"g":"Low scenario","x":2036,"y":0.52},{"g":"Low scenario","x":2038,"y":0.503},{"g":"Low scenario","x":2040,"y":0.485},{"g":"Low scenario","x":2043,"y":0.447},{"g":"Low scenario","x":2046,"y":0.413},{"g":"Low scenario","x":2050,"y":0.38},{"g":"Low scenario","x":2054,"y":0.355},{"g":"Low scenario","x":2060,"y":0.31},{"g":"Low scenario","x":2065,"y":0.287},{"g":"Low scenario","x":2070,"y":0.267},{"g":"Low scenario","x":2075,"y":0.245},{"g":"Low scenario","x":2080,"y":0.222},{"g":"Low scenario","x":2085,"y":0.207},{"g":"Low scenario","x":2090,"y":0.195},{"g":"Low scenario","x":2095,"y":0.178},{"g":"Low scenario","x":2100,"y":0.161},
  {"g":"Medium scenario","x":2023,"y":0.599},{"g":"Medium scenario","x":2025,"y":0.606},{"g":"Medium scenario","x":2027,"y":0.585},{"g":"Medium scenario","x":2028,"y":0.574},{"g":"Medium scenario","x":2030,"y":0.59},{"g":"Medium scenario","x":2032,"y":0.583},{"g":"Medium scenario","x":2034,"y":0.57},{"g":"Medium scenario","x":2036,"y":0.548},{"g":"Medium scenario","x":2038,"y":0.522},{"g":"Medium scenario","x":2040,"y":0.5},{"g":"Medium scenario","x":2042,"y":0.476},{"g":"Medium scenario","x":2044,"y":0.463},{"g":"Medium scenario","x":2046,"y":0.455},{"g":"Medium scenario","x":2048,"y":0.449},{"g":"Medium scenario","x":2050,"y":0.447},{"g":"Medium scenario","x":2055,"y":0.443},{"g":"Medium scenario","x":2060,"y":0.435},{"g":"Medium scenario","x":2064,"y":0.433},{"g":"Medium scenario","x":2070,"y":0.437},{"g":"Medium scenario","x":2075,"y":0.443},{"g":"Medium scenario","x":2080,"y":0.451},{"g":"Medium scenario","x":2085,"y":0.458},{"g":"Medium scenario","x":2090,"y":0.465},{"g":"Medium scenario","x":2095,"y":0.467},{"g":"Medium scenario","x":2100,"y":0.469},
  {"g":"High scenario","x":2022,"y":0.595},{"g":"High scenario","x":2024,"y":0.63},{"g":"High scenario","x":2026,"y":0.665},{"g":"High scenario","x":2028,"y":0.707},{"g":"High scenario","x":2029,"y":0.725},{"g":"High scenario","x":2030,"y":0.795},{"g":"High scenario","x":2031,"y":0.785},{"g":"High scenario","x":2032,"y":0.775},{"g":"High scenario","x":2034,"y":0.765},{"g":"High scenario","x":2036,"y":0.755},{"g":"High scenario","x":2038,"y":0.75},{"g":"High scenario","x":2040,"y":0.743},{"g":"High scenario","x":2042,"y":0.735},{"g":"High scenario","x":2044,"y":0.722},{"g":"High scenario","x":2046,"y":0.71},{"g":"High scenario","x":2048,"y":0.7},{"g":"High scenario","x":2050,"y":0.689},{"g":"High scenario","x":2052,"y":0.689},{"g":"High scenario","x":2055,"y":0.693},{"g":"High scenario","x":2060,"y":0.7},{"g":"High scenario","x":2065,"y":0.7},{"g":"High scenario","x":2070,"y":0.703},{"g":"High scenario","x":2075,"y":0.708},{"g":"High scenario","x":2080,"y":0.716},{"g":"High scenario","x":2085,"y":0.722},{"g":"High scenario","x":2090,"y":0.732},{"g":"High scenario","x":2095,"y":0.736},{"g":"High scenario","x":2100,"y":0.743}
 ]
},
"hconcat": [
 {
  "width": 453, "height": 337,
  "view": {"stroke": "#222", "strokeWidth": 1},
  "title": {"text": "Fossil fuel and LUC CO2 emissions scenarios"},
  "layer": [
   {"data": {"name": "ffh"}, "mark": {"type": "area", "color": "blue", "fillOpacity": 0.3, "stroke": "blue", "strokeOpacity": 0.25, "strokeWidth": 1},
    "encoding": {
     "x": {"field": "x", "type": "quantitative", "scale": {"domain": [2011.77, 2104.3], "nice": false, "zero": false}, "axis": {"title": "Years", "values": [2020, 2040, 2060, 2080, 2100], "format": "d"}},
     "y": {"field": "lo", "type": "quantitative", "scale": {"domain": [-1.07, 11.05], "nice": false, "zero": false}, "axis": {"title": "CO2 emissions (PgC/yr)", "values": [0, 2, 4, 6, 8, 10]}},
     "y2": {"field": "hi"}}},
   {"data": {"name": "ffh"}, "mark": {"type": "line", "color": "blue", "strokeWidth": 1.5},
    "encoding": {
     "x": {"field": "x", "type": "quantitative", "scale": {"domain": [2011.77, 2104.3], "nice": false, "zero": false}},
     "y": {"field": "y", "type": "quantitative", "scale": {"domain": [-1.07, 11.05], "nice": false, "zero": false}}}},
   {"data": {"name": "ffs"}, "mark": {"type": "line", "color": "blue", "strokeWidth": 1.5},
    "encoding": {
     "x": {"field": "x", "type": "quantitative", "scale": {"domain": [2011.77, 2104.3], "nice": false, "zero": false}},
     "y": {"field": "y", "type": "quantitative", "scale": {"domain": [-1.07, 11.05], "nice": false, "zero": false}},
     "detail": {"field": "sc", "type": "nominal"}}},
   {"data": {"name": "luh"}, "mark": {"type": "area", "color": "black", "fillOpacity": 0.3, "stroke": "black", "strokeOpacity": 0.2, "strokeWidth": 1},
    "encoding": {
     "x": {"field": "x", "type": "quantitative", "scale": {"domain": [2011.77, 2104.3], "nice": false, "zero": false}},
     "y": {"field": "lo", "type": "quantitative", "scale": {"domain": [-1.07, 11.05], "nice": false, "zero": false}},
     "y2": {"field": "hi"}}},
   {"data": {"name": "luh"}, "mark": {"type": "line", "color": "black", "strokeWidth": 1.5},
    "encoding": {
     "x": {"field": "x", "type": "quantitative", "scale": {"domain": [2011.77, 2104.3], "nice": false, "zero": false}},
     "y": {"field": "y", "type": "quantitative", "scale": {"domain": [-1.07, 11.05], "nice": false, "zero": false}}}},
   {"data": {"name": "mk"}, "mark": {"type": "point", "filled": true, "size": 64, "opacity": 1},
    "encoding": {
     "x": {"field": "x", "type": "quantitative", "scale": {"domain": [2011.77, 2104.3], "nice": false, "zero": false}},
     "y": {"field": "y", "type": "quantitative", "scale": {"domain": [-1.07, 11.05], "nice": false, "zero": false}},
     "color": {"field": "k", "type": "nominal", "scale": {"domain": ["Fossil fuel CO2 emissions", "End gross forest loss", "End tree cover loss", "End net forest loss"], "range": ["blue", "black", "black", "black"]},
      "legend": {"title": null, "orient": "top-right", "offset": 6, "symbolSize": 64, "symbolOffset": 6.5, "labelOffset": 24.3}},
     "shape": {"field": "k", "type": "nominal", "scale": {"domain": ["Fossil fuel CO2 emissions", "End gross forest loss", "End tree cover loss", "End net forest loss"], "range": ["M-3.35,-0.19H3.35V0.19H-3.35Z", "triangle-up", "triangle-down", "circle"]},
      "legend": {"title": null, "orient": "top-right", "offset": 6, "symbolSize": 64, "symbolOffset": 6.5, "labelOffset": 24.3}}}}
  ]
 },
 {
  "width": 452, "height": 341,
  "title": {"text": "Non-CO2 RF scenarios", "dx": 2},
  "resolve": {"axis": {"x": "independent"}},
  "layer": [
   {"data": {"name": "band"}, "mark": {"type": "area", "color": "#238b45", "fillOpacity": 0.4, "stroke": "#238b45", "strokeOpacity": 0.45, "strokeWidth": 1},
    "encoding": {
     "x": {"field": "x", "type": "quantitative", "scale": {"domain": [2012.04, 2103.35], "nice": false, "zero": false}, "axis": {"orient": "top", "labels": false, "ticks": false, "title": null, "domain": true}},
     "y": {"field": "lo", "type": "quantitative", "scale": {"domain": [-0.042, 0.875], "nice": false, "zero": false}, "axis": {"title": "RF (W/m2)", "values": [0, 0.2, 0.4, 0.6, 0.8], "format": ".1f", "labelFontSize": 12.5}},
     "y2": {"field": "hi"}}},
   {"data": {"name": "hist"}, "mark": {"type": "line", "color": "#238443", "strokeWidth": 1.6},
    "encoding": {
     "x": {"field": "x", "type": "quantitative", "scale": {"domain": [2012.04, 2103.35], "nice": false, "zero": false}, "axis": {"title": "Years", "values": [2020, 2040, 2060, 2080, 2100], "format": "d", "labelFontSize": 12.5}},
     "y": {"field": "y", "type": "quantitative", "scale": {"domain": [-0.042, 0.875], "nice": false, "zero": false}}}},
   {"data": {"name": "c1"}, "mark": {"type": "line", "color": "#333333", "opacity": 0.2, "strokeWidth": 1.3},
    "encoding": {
     "x": {"field": "x", "type": "quantitative", "scale": {"domain": [2012.04, 2103.35], "nice": false, "zero": false}, "axis": null},
     "y": {"field": "y", "type": "quantitative", "scale": {"domain": [-0.042, 0.875], "nice": false, "zero": false}},
     "detail": {"field": "s", "type": "nominal"}}},
   {"data": {"name": "sc"}, "mark": {"type": "line"},
    "encoding": {
     "x": {"field": "x", "type": "quantitative", "scale": {"domain": [2012.04, 2103.35], "nice": false, "zero": false}, "axis": null},
     "y": {"field": "y", "type": "quantitative", "scale": {"domain": [-0.042, 0.875], "nice": false, "zero": false}},
     "color": {"field": "g", "type": "nominal", "scale": {"domain": ["All C1", "Low scenario", "Medium scenario", "High scenario"], "range": ["#333333", "#c2e699", "#78c679", "#238443"]},
      "legend": {"title": null, "orient": "bottom-left", "offset": 6, "symbolType": "M-3.5,0H3.5", "symbolSize": 64, "symbolOffset": 5.15, "labelOffset": 21.3, "labelFontSize": 11.8, "rowPadding": 4.6}},
     "strokeWidth": {"field": "g", "type": "nominal", "scale": {"type": "ordinal", "domain": ["All C1", "Low scenario", "Medium scenario", "High scenario"], "range": [1.3, 3.5, 3.2, 3]},
      "legend": {"title": null, "orient": "bottom-left", "offset": 6, "symbolType": "M-3.5,0H3.5", "symbolSize": 64, "symbolOffset": 5.15, "labelOffset": 21.3, "labelFontSize": 11.8, "rowPadding": 4.6}},
     "opacity": {"field": "g", "type": "nominal", "scale": {"type": "ordinal", "domain": ["All C1", "Low scenario", "Medium scenario", "High scenario"], "range": [0.2, 1, 1, 1]},
      "legend": {"title": null, "orient": "bottom-left", "offset": 6, "symbolType": "M-3.5,0H3.5", "symbolSize": 64, "symbolOffset": 5.15, "labelOffset": 21.3, "labelFontSize": 11.8, "rowPadding": 4.6}}}}
  ]
 }
]
}
